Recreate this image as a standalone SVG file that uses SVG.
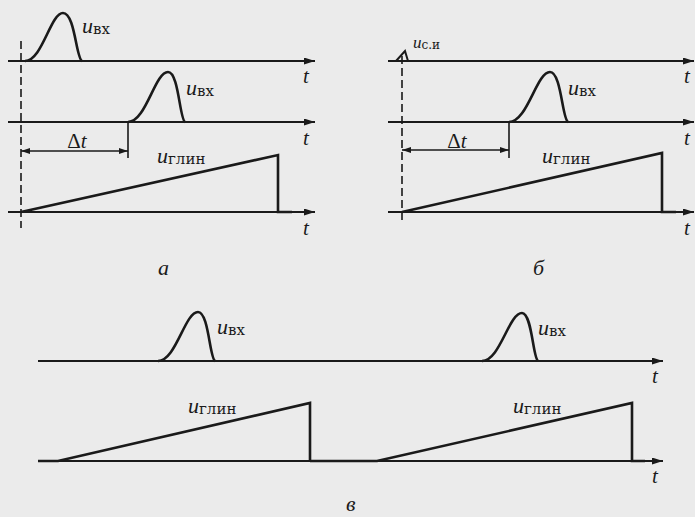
<svg xmlns="http://www.w3.org/2000/svg" width="695" height="517" viewBox="0 0 695 517" font-family="'Liberation Serif', 'DejaVu Serif', serif">
<defs>
<marker id="ah" markerUnits="userSpaceOnUse" markerWidth="12" markerHeight="8" refX="11" refY="3.5" orient="auto"><path d="M0,0 L11,3.5 L0,7 z" fill="#1a1a1a"/></marker>
<marker id="dh" markerUnits="userSpaceOnUse" markerWidth="10" markerHeight="7" refX="9" refY="3" orient="auto-start-reverse"><path d="M0,0 L9,3 L0,6 z" fill="#1a1a1a"/></marker>
<style>
.ax{stroke:#1a1a1a;stroke-width:1.8;fill:none;marker-end:url(#ah)}
.sig{stroke:#1a1a1a;stroke-width:2.6;fill:none;stroke-linejoin:miter}
.thin{stroke:#1a1a1a;stroke-width:1.6;fill:none}
.dash{stroke:#1a1a1a;stroke-width:1.6;fill:none;stroke-dasharray:8,4}
.dim{stroke:#1a1a1a;stroke-width:1.4;fill:none;marker-start:url(#dh);marker-end:url(#dh)}
text{fill:#1a1a1a}
.u{font-family:'Liberation Serif', serif;font-style:italic;font-size:22px}
.sub{font-family:'DejaVu Serif', serif;font-style:normal;font-size:15px}
.t{font-family:'Liberation Serif', serif;font-style:italic;font-size:21px}
.cap{font-family:'Liberation Serif', serif;font-style:italic;font-size:22px}
.dl{font-family:'Liberation Serif', serif;font-size:21px}
</style>
</defs>
<rect width="695" height="517" fill="#ebebeb"/>

<g id="panel-a">
<g id="connectors-a">
<line class="ax" x1="8" y1="61" x2="315" y2="61"/>
<line class="ax" x1="8" y1="122" x2="315" y2="122"/>
<line class="ax" x1="8" y1="212" x2="315" y2="212"/>
<line class="dash" x1="21" y1="41" x2="21" y2="228"/>
<line class="thin" x1="128" y1="122" x2="128" y2="158"/>
<line class="dim" x1="21" y1="151" x2="128" y2="151"/>
</g>
<g id="a-pulse1"><path class="sig" d="M25,61 C42.1,61 50.5,13 63,13 C75,13 76,58 82,61"/>
<text x="82" y="33" class="u">u<tspan class="sub" dy="1">вх</tspan></text></g>
<g id="a-pulse2"><path class="sig" d="M128,122 C146,122 154.8,72 168,72 C178.7,72 179.6,119 185,122"/>
<text x="186" y="95" class="u">u<tspan class="sub" dy="1">вх</tspan></text></g>
<g id="a-ramp"><path class="sig" d="M21,212 L278,155 L278,212 L292,212"/>
<text x="157" y="163" class="u">u<tspan class="sub" dy="1">глин</tspan></text></g>
<text x="77" y="148" text-anchor="middle" class="dl">Δ<tspan font-style="italic">t</tspan></text>
<text x="303" y="83" class="t">t</text>
<text x="303" y="145" class="t">t</text>
<text x="303" y="235" class="t">t</text>
<text x="158" y="275" class="cap">a</text>
</g>

<g id="panel-b">
<g id="connectors-b">
<line class="ax" x1="388" y1="61" x2="694" y2="61"/>
<line class="ax" x1="388" y1="122" x2="694" y2="122"/>
<line class="ax" x1="388" y1="212" x2="694" y2="212"/>
<line class="dash" x1="402" y1="56" x2="402" y2="224"/>
<line class="thin" x1="509" y1="122" x2="509" y2="158"/>
<line class="dim" x1="402" y1="150" x2="509" y2="150"/>
</g>
<g id="b-sync"><polyline class="thin" points="396,61 405,51 408,61" style="stroke-width:2"/>
<text x="413" y="48" class="u" style="font-size:17px">u<tspan class="sub" style="font-size:12px" dy="1">с.и</tspan></text></g>
<g id="b-pulse"><path class="sig" d="M509,122 C527.5,122 536.5,72 550,72 C561.3,72 562.2,119 568,122"/>
<text x="568" y="95" class="u">u<tspan class="sub" dy="1">вх</tspan></text></g>
<g id="b-ramp"><path class="sig" d="M402,212 L662,153 L662,212 L676,212"/>
<text x="542" y="163" class="u">u<tspan class="sub" dy="1">глин</tspan></text></g>
<text x="457" y="148" text-anchor="middle" class="dl">Δ<tspan font-style="italic">t</tspan></text>
<text x="684" y="83" class="t">t</text>
<text x="684" y="145" class="t">t</text>
<text x="684" y="235" class="t">t</text>
<text x="533" y="275" class="cap">б</text>
</g>

<g id="panel-c">
<g id="connectors-c">
<line class="ax" x1="38" y1="361" x2="663" y2="361"/>
<line class="ax" x1="38" y1="461" x2="663" y2="461"/>
</g>
<g id="c-pulse1"><path class="sig" d="M158,361 C176,361 184.8,312 198,312 C208.7,312 209.6,358 215,361"/>
<text x="217" y="334" class="u">u<tspan class="sub" dy="1">вх</tspan></text></g>
<g id="c-pulse2"><path class="sig" d="M482,361 C500,361 508.8,313 522,313 C532,313 532.9,358 538,361"/>
<text x="538" y="335" class="u">u<tspan class="sub" dy="1">вх</tspan></text></g>
<g id="c-ramp1"><path class="sig" d="M38,461 L58,461 L310,403 L310,461"/>
<text x="188" y="413" class="u">u<tspan class="sub" dy="1">глин</tspan></text></g>
<g id="c-ramp2"><path class="sig" d="M310,461 L377,461 L632,403 L632,461 L645,461"/>
<text x="513" y="413" class="u">u<tspan class="sub" dy="1">глин</tspan></text></g>
<text x="652" y="383" class="t">t</text>
<text x="652" y="483" class="t">t</text>
<text x="346" y="511" class="cap">в</text>
</g>
</svg>
